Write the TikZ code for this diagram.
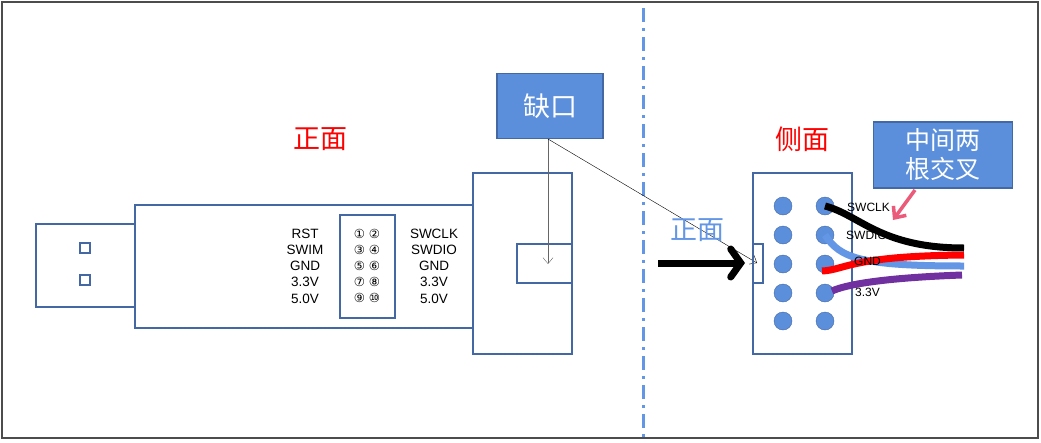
\documentclass[tikz,border=0pt]{standalone}
\usepackage{fontspec}
\setmainfont{Liberation Sans}
\newfontfamily\cjk{Noto Sans CJK SC}
\newfontfamily\dv{DejaVu Sans}
\usetikzlibrary{arrows.meta}
\definecolor{bx}{RGB}{68,104,164}
\definecolor{fillb}{RGB}{91,143,219}
\definecolor{lblue}{RGB}{100,150,230}
\definecolor{purp}{RGB}{112,48,160}
\definecolor{pinkc}{RGB}{235,90,120}
\begin{document}
\begin{tikzpicture}[x=1pt,y=-1pt,
  box/.style={draw=bx,line width=1.5pt},
  callout/.style={draw=bx,line width=1.2pt,fill=fillb,text=white,font=\cjk\fontsize{27}{32}\selectfont,inner sep=0pt},
  pin/.style={circle,draw=bx,fill=fillb,minimum size=18pt,inner sep=0pt},
  lbl/.style={font=\fontsize{13.5}{16.2}\selectfont,align=center,inner sep=0pt},
  wire/.style={line width=7pt}]
\draw[draw=black!70,line width=1.2pt] (2,2) rectangle (1038,438);
\useasboundingbox (0,0) rectangle (1041,442);
\draw[lblue,line width=3pt,dash pattern=on 14pt off 6pt on 3pt off 6pt] (643,8) -- (643,440);
% USB
\draw[box] (36,224) rectangle (135,307);
\draw[box] (80,243) rectangle (90,253);
\draw[box] (80,275) rectangle (90,285);
\draw[box] (135,205) rectangle (473,328);
\draw[box] (340,215) rectangle (395,318);
\draw[box] (473,173) rectangle (572,354);
\draw[box] (517,244) rectangle (572,283);
\node[lbl] (l1) at (305,266) {RST\\SWIM\\GND\\3.3V\\5.0V};
\node[lbl,font=\dv\fontsize{12.5}{16.2}\selectfont] (l2) at (367,266) {① ②\\③ ④\\⑤ ⑥\\⑦ ⑧\\⑨ ⑩};
\node[lbl] (l3) at (434,266) {SWCLK\\SWDIO\\GND\\3.3V\\5.0V};
\node[font=\cjk\fontsize{27}{30}\selectfont,text=red] (zm) at (320,139) {正面};
\node[font=\cjk\fontsize{27}{30}\selectfont,text=red] (cm) at (802,139) {侧面};
\node[callout,minimum width=106pt,minimum height=65pt] (qk) at (550,106) {缺口};
\coordinate (qt) at (548,264);
\coordinate (nt) at (757,263);
\draw[black!60,-{Straight Barb[length=6pt,width=10pt]}] (548,139) -- (qt);
\draw[black,-{Straight Barb[length=6pt,width=10pt]}] (548,139) -- (nt);
% side
\draw[box] (753,173) rectangle (852,354);
\draw[box] (753,244) rectangle (763,283);
\foreach \r [count=\i] in {206,235,264,293,321}{
  \node[pin] (a\i) at (783,\r) {};
  \node[pin] (b\i) at (825,\r) {};
}
\node[font=\cjk\fontsize{27}{30}\selectfont,text=lblue] (zm2) at (697,230) {正面};
\coordinate (as) at (658,263);
\draw[line width=7pt,-{Straight Barb[length=10pt,width=28pt,line cap=round]}] (as) -- (745,263);
\draw[wire,lblue] (b2.center) .. controls (840,258) and (860,266) .. (964,266);
\draw[wire,black] (b1.center) .. controls (860,215) and (880,248) .. (964,248);
\draw[wire,red] (822,271) .. controls (845,270) and (850,256) .. (964,255);
\draw[wire,purp] (832,291) .. controls (845,285) and (880,278) .. (962,275);
\node[lbl,anchor=west,font=\fontsize{12}{14}\selectfont] (s1) at (847,207) {SWCLK};
\node[lbl,anchor=west,font=\fontsize{12}{14}\selectfont] (s2) at (846,235) {SWDIO};
\node[lbl,anchor=west,font=\fontsize{12}{14}\selectfont] (s3) at (854,261) {GND};
\node[lbl,anchor=west,font=\fontsize{12}{14}\selectfont] (s4) at (855,292) {3.3V};
\node[callout,minimum width=139pt,minimum height=66pt,align=center,font=\cjk\fontsize{25}{29}\selectfont] (jc) at (943,155) {中间两\\根交叉};
\coordinate (pe) at (893,220);
\draw[pinkc,line width=3.5pt,-{Straight Barb[length=9pt,width=16pt]}] (915,190) -- (pe);
\end{tikzpicture}
\end{document}
